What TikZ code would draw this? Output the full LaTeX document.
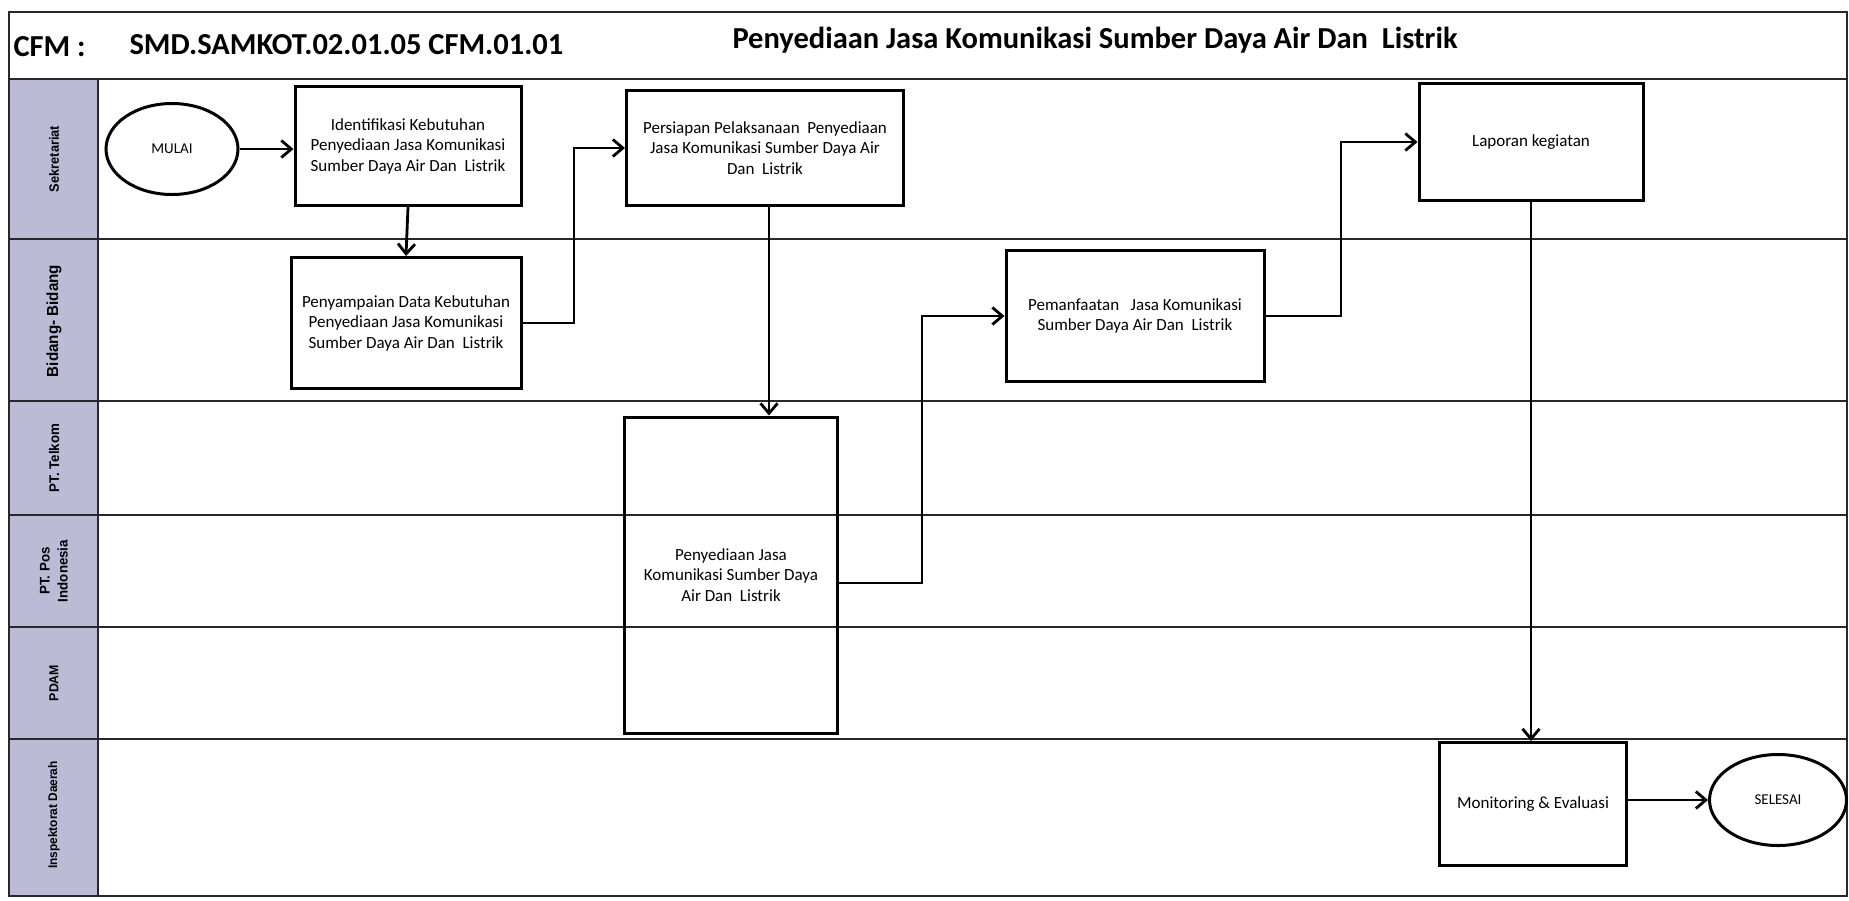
\documentclass[tikz,border=0pt]{standalone}
\usepackage{fontspec}
\setmainfont{Carlito}
\newfontfamily\lanefont[FakeStretch=0.95]{Liberation Sans}
\usetikzlibrary{arrows.meta,shapes.geometric}
\definecolor{lanefill}{RGB}{188,186,212}
\definecolor{rulecol}{RGB}{40,40,40}
\begin{document}
\begin{tikzpicture}[x=1pt,y=-1pt,
  box/.style={draw,line width=3pt,align=center,font=\fontsize{17}{20.5}\selectfont,inner sep=0pt},
  term/.style={draw,ellipse,line width=3pt,font=\fontsize{15}{18}\selectfont,inner sep=0pt},
  flow/.style={line width=2.8pt,-{Straight Barb[length=10pt,width=17pt,line width=2.8pt]}},
  lane/.style={rotate=90,font=\lanefont\bfseries,align=center},
  rule/.style={line width=1.3pt,draw=rulecol},
  title/.style={font=\bfseries\fontsize{30.5}{34}\selectfont,anchor=west}]
\useasboundingbox (0,0) rectangle (1849,900);
\fill[white] (0,0) rectangle (1849,900);
% lane label column
\fill[lanefill] (9,79) rectangle (98,896);
% frame and lanes
\draw[rule] (9,12) rectangle (1847,896);
\foreach \yy in {79,239,401,515,627,739} \draw[rule] (9,\yy) -- (1847,\yy);
\draw[rule] (98,79) -- (98,896);
% header
\node[title] (cfm) at (10,47) {CFM :};
\node[title] (code) at (126,45) {SMD.SAMKOT.02.01.05 CFM.01.01};
\node[title,anchor=center] (ttl) at (1095,40) {Penyediaan Jasa Komunikasi Sumber Daya Air Dan~ Listrik};
% lane labels
\node[lane,font=\lanefont\bfseries\fontsize{13.5}{16}\selectfont] (l1) at (54,159) {Sekretariat};
\node[lane,font=\lanefont\bfseries\fontsize{16}{19}\selectfont] (l2) at (54,321) {Bidang- Bidang};
\node[lane,font=\lanefont\bfseries\fontsize{14}{17}\selectfont] (l3) at (54,458) {PT. Telkom};
\node[lane,font=\lanefont\bfseries\fontsize{14}{18}\selectfont] (l4) at (54,571) {PT. Pos\\Indonesia};
\node[lane,font=\lanefont\bfseries\fontsize{13}{16}\selectfont] (l5) at (54,683) {PDAM};
\node[lane,font=\lanefont\bfseries\fontsize{12.5}{15}\selectfont] (l6) at (54,815) {Inspektorat Daerah};
% nodes
\node[term,minimum width=132pt,minimum height=91pt] (mulai) at (172,149) {MULAI};
\node[box,minimum width=226pt,minimum height=119pt] (ident) at (408,146) {Identifikasi Kebutuhan\\Penyediaan Jasa Komunikasi\\Sumber Daya Air Dan~ Listrik};
\node[box,minimum width=230pt,minimum height=131pt] (sampai) at (406,323) {Penyampaian Data Kebutuhan\\Penyediaan Jasa Komunikasi\\Sumber Daya Air Dan~ Listrik};
\node[box,minimum width=277pt,minimum height=115pt] (siap) at (765,148) {Persiapan Pelaksanaan~ Penyediaan\\Jasa Komunikasi Sumber Daya Air\\Dan~ Listrik};
\node[box,minimum width=213pt,minimum height=316pt] (sedia) at (731,575) {Penyediaan Jasa\\Komunikasi Sumber Daya\\Air Dan~ Listrik};
\node[box,minimum width=258pt,minimum height=131pt] (manfaat) at (1135,316) {Pemanfaatan~~ Jasa Komunikasi\\Sumber Daya Air Dan~ Listrik};
\node[box,minimum width=224pt,minimum height=117pt] (lapor) at (1531,142) {Laporan kegiatan};
\node[box,minimum width=187pt,minimum height=123pt] (monev) at (1533,804) {Monitoring \& Evaluasi};
\node[term,minimum width=137pt,minimum height=91pt] (selesai) at (1778,800) {SELESAI};
% connectors
\draw[flow] (mulai.east) -- (ident.west |- mulai.east);
\draw[flow] (ident.south) -- (sampai.north);
\coordinate (k1) at (574,323);
\draw[flow] (sampai.east) -- (k1) |- (siap.west);
\draw[flow] ([xshift=4pt]siap.south) -- ([xshift=4pt]siap.south |- sedia.north);
\coordinate (k2) at (922,583);
\draw[flow] (sedia.east |- k2) -- (k2) |- (manfaat.west);
\coordinate (k3) at (1341,316);
\draw[flow] (manfaat.east) -- (k3) |- (lapor.west);
\draw[flow] (lapor.south) -- (lapor.south |- monev.north);
\draw[flow] (monev.east |- selesai.west) -- (selesai.west);
\end{tikzpicture}
\end{document}
